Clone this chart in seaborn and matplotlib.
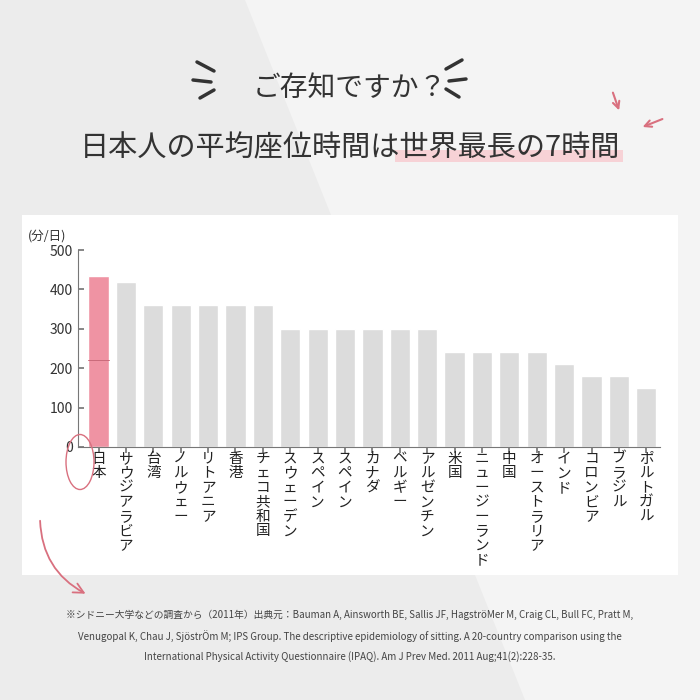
import matplotlib
matplotlib.use("Agg")
import matplotlib.pyplot as plt
import seaborn as sns
import pandas as pd
import numpy as np
from matplotlib.patches import Rectangle, FancyArrowPatch, Ellipse

sns.set_theme(style="white")
plt.rcParams['font.family'] = ['Noto Sans CJK JP', 'DejaVu Sans']

countries = ["日本", "サウジアラビア", "台湾", "ノルウェー", "リトアニア", "香港", "チェコ共和国",
             "スウェーデン", "スペイン", "スペイン", "カナダ", "ベルギー", "アルゼンチン", "米国",
             "ニュージーランド", "中国", "オーストラリア", "インド", "コロンビア", "ブラジル", "ポルトガル"]
minutes = [435, 420, 360, 360, 360, 360, 360, 300, 300, 300, 300, 300, 300, 240,
           240, 240, 240, 210, 180, 180, 150]
yticks = [0, 100, 200, 300, 400, 500]

fig = plt.figure(figsize=(7, 7), dpi=100)
fig.patch.set_facecolor("#ececec")
fig.patches.append(plt.Polygon([[0.35, 1], [1, 1], [1, 0.0], [0.75, 0]], closed=True,
                               transform=fig.transFigure, facecolor="#f4f4f4", edgecolor="none", zorder=-2))
fig.patches.append(Rectangle((22/700, 1-575/700), 656/700, 360/700, transform=fig.transFigure,
                             facecolor="white", edgecolor="none", zorder=-1))

ax = fig.add_axes([78/700, 1-447/700, 582/700, 197/700])
ax.set_zorder(5)
ax.set_facecolor("white")
df = pd.DataFrame({"country": [f"{i}" for i in range(len(countries))], "minutes": minutes})
colors = ["#ef93a3"] + ["#dcdcdc"] * (len(countries) - 1)
sns.barplot(data=df, x="country", y="minutes", hue="country", palette=colors, legend=False,
            width=0.74, ax=ax, saturation=1)
ax.set_ylim(0, 500)
ax.set_xlim(-0.75, len(countries) - 0.5)
ax.set_yticks(yticks)
ax.set_yticklabels([str(t) for t in yticks], fontsize=10, color="#333333")
ax.set_xticks(range(len(countries)))
ax.set_xticklabels([""] * len(countries))
ax.tick_params(axis="x", length=4, color="#777777", direction="out", bottom=True)
ax.tick_params(axis="y", length=4, color="#777777", direction="in", left=True)
for s in ["top", "right"]:
    ax.spines[s].set_visible(False)
for s in ["left", "bottom"]:
    ax.spines[s].set_color("#777777")
    ax.spines[s].set_linewidth(0.8)
ax.set_xlabel("")
ax.set_ylabel("")
ax.plot([-0.37, 0.37], [220, 220], color="#c96a7a", lw=0.7)
for i, c in enumerate(countries):
    ax.text(i, -12, "\n".join(c), ha="center", va="top", fontsize=10.5, color="#222222",
            linespacing=1.05, clip_on=False)
ax.text(-0.02, 1.04, "(分/日)", transform=ax.transAxes, ha="right", va="bottom", fontsize=9, color="#333333")

fig.patches.append(Ellipse((80/700, 1-462/700), 28/700, 55/700, transform=fig.transFigure,
                           facecolor="none", edgecolor="#d9707f", lw=1, zorder=6))

fig.text(0.5, 1-88/700, "ご存知ですか？", ha="center", va="center", fontsize=20, color="#333333")
fig.patches.append(Rectangle((395/700, 1-162/700), 228/700, 12/700, transform=fig.transFigure,
                             facecolor="#f7d2d6", edgecolor="none", zorder=2))
fig.text(0.5, 1-148/700, "日本人の平均座位時間は世界最長の7時間", ha="center", va="center",
         fontsize=21, color="#333333", zorder=3)
for (x0, y0, x1, y1) in [(197, 62, 214, 71), (193, 80, 211, 82), (200, 98, 214, 90),
                         (462, 60, 446, 69), (466, 79, 449, 81), (459, 97, 446, 89)]:
    fig.add_artist(plt.Line2D([x0/700, x1/700], [1-y0/700, 1-y1/700], color="#333333", lw=2.5,
                              solid_capstyle="round"))
for (x0, y0, x1, y1) in [(612, 90, 620, 113), (665, 118, 640, 128)]:
    fig.add_artist(FancyArrowPatch((x0/700, 1-y0/700), (x1/700, 1-y1/700), transform=fig.transFigure,
                                   arrowstyle="->", mutation_scale=12, color="#d9707f", lw=1.5))
fig.add_artist(FancyArrowPatch((40/700, 1-518/700), (88/700, 1-595/700), transform=fig.transFigure,
                               connectionstyle="arc3,rad=0.3", arrowstyle="->", mutation_scale=18,
                               color="#d9707f", lw=1.3, zorder=6))

fn = ("※シドニー大学などの調査から（2011年）出典元：Bauman A, Ainsworth BE, Sallis JF, HagströMer M, Craig CL, Bull FC, Pratt M,\n"
      "Venugopal K, Chau J, SjöstrÖm M; IPS Group. The descriptive epidemiology of sitting. A 20-country comparison using the\n"
      "International Physical Activity Questionnaire (IPAQ). Am J Prev Med. 2011 Aug;41(2):228-35.")
fig.text(0.5, 1-636/700, fn, ha="center", va="center", fontsize=7, color="#444444", linespacing=2.0)

fig.savefig("out.png", dpi=100, facecolor=fig.get_facecolor())
